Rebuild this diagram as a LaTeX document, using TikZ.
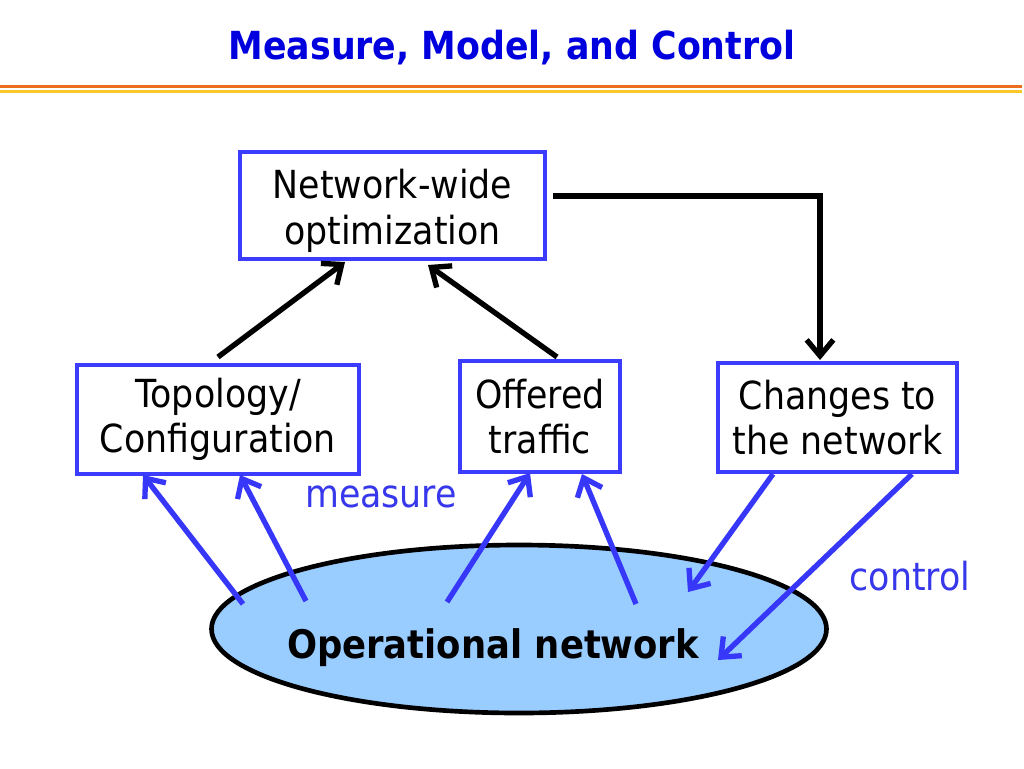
\documentclass[tikz,border=0pt]{standalone}
\usepackage{fontspec}
\setmainfont{DejaVu Sans}[FakeStretch=0.9]
\usetikzlibrary{arrows.meta,shapes.geometric}
\definecolor{titleblue}{RGB}{0,0,222}
\definecolor{boxblue}{RGB}{60,60,255}
\definecolor{arrblue}{RGB}{55,55,250}
\definecolor{lblblue}{RGB}{55,55,235}
\definecolor{netfill}{RGB}{153,204,255}
\definecolor{lineorange}{RGB}{235,110,30}
\definecolor{lineyellow}{RGB}{250,200,40}
\tikzset{
  box/.style={draw=boxblue, line width=3.5pt, fill=white, align=center,
    font=\fontsize{29}{34}\selectfont, inner sep=0pt},
  blk/.style={draw=black, line width=4pt, -{Straight Barb[length=12pt,width=20pt]}},
  blu/.style={draw=arrblue, line width=4pt, -{Straight Barb[length=12pt,width=20pt]}},
  lbl/.style={text=lblblue, font=\fontsize{29}{32}\selectfont, inner sep=0pt},
}
\begin{document}
\begin{tikzpicture}[x=0.75pt,y=-0.75pt]
\useasboundingbox (0,0) rectangle (1024,768);
\fill[white] (0,0) rectangle (1024,768);
% title
\node[text=titleblue, font=\bfseries\fontsize{29}{32}\selectfont, inner sep=0pt] (title) at (512,48) {Measure, Model, and Control};
\fill[lineorange] (0,85) rectangle (1022,88);
\fill[lineyellow] (0,89.5) rectangle (1022,93);
% ellipse
\node[draw=black, line width=3.5pt, fill=netfill, ellipse, inner sep=0pt,
  minimum width=615*0.75pt, minimum height=168*0.75pt] (net) at (519,629) {};
\node[font=\bfseries\fontsize{29.5}{32}\selectfont, inner sep=0pt] (netlbl) at (493,648) {Operational network};
% boxes
\node[box, minimum width=305*0.75pt, minimum height=107*0.75pt] (opt) at (392.5,205.5) {\rule{0pt}{30pt}Network-wide\\optimization};
\node[box, minimum width=282*0.75pt, minimum height=109*0.75pt] (topo) at (218,419.5) {Topology/\\Configuration};
\node[box, minimum width=160*0.75pt, minimum height=111*0.75pt] (traf) at (540,416.5) {Offered\\traffic};
\node[box, minimum width=239*0.75pt, minimum height=109*0.75pt] (chg) at (837.5,417.5) {Changes to\\the network};
% labels
\node[lbl] (meas) at (381,497) {measure};
\node[lbl] (ctrl) at (910,576) {control};
% coordinates
\coordinate (t1) at (218,357); \coordinate (o1) at (345,262);
\coordinate (t2) at (557,357); \coordinate (o2) at (428,265);
\coordinate (e1) at (553,196); \coordinate (c1) at (820,360);
\coordinate (m1s) at (243,604); \coordinate (m1e) at (143,475);
\coordinate (m2s) at (306,601); \coordinate (m2e) at (240,475);
\coordinate (m3s) at (447,602); \coordinate (m3e) at (530,473);
\coordinate (m4s) at (636,604); \coordinate (m4e) at (582,474);
\coordinate (k1s) at (773,474); \coordinate (k1e) at (688,592);
\coordinate (k2s) at (912,474); \coordinate (k2e) at (718,660);
% black arrows
\draw[blk] (t1) -- (o1);
\draw[blk] (t2) -- (o2);
\draw[blk] (e1) -| (c1);
% blue arrows
\draw[blu] (m1s) -- (m1e);
\draw[blu] (m2s) -- (m2e);
\draw[blu] (m3s) -- (m3e);
\draw[blu] (m4s) -- (m4e);
\draw[blu] (k1s) -- (k1e);
\draw[blu] (k2s) -- (k2e);
\end{tikzpicture}
\end{document}
